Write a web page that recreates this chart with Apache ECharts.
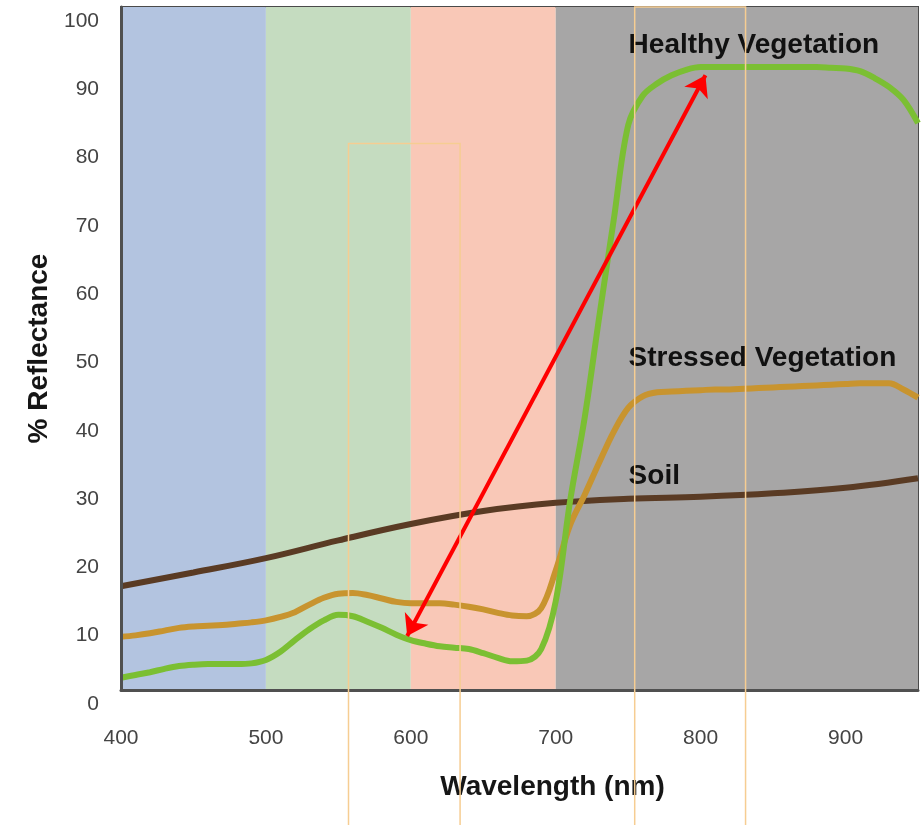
<!DOCTYPE html>
<html><head><meta charset="utf-8">
<script src="https://cdn.jsdelivr.net/npm/echarts@6/dist/echarts.min.js"></script>
<style>html,body{margin:0;padding:0;background:#fff}#c{width:924px;height:825px}</style>
</head><body><div id="c"></div>
<script>
// ---- data ----
const wavelengths = [400,410,420,430,440,450,460,470,480,490,500,510,520,530,540,550,560,570,580,590,600,610,620,630,640,650,660,670,680,690,700,710,720,730,740,750,760,770,780,790,800,810,820,830,840,850,860,870,880,890,900,910,920,930,940,950];
const healthyY = [1.8,2.2,2.6,3.1,3.5,3.7,3.8,3.8,3.8,3.9,4.4,5.6,7.3,8.9,10.2,11.0,10.8,10.0,9.1,8.1,7.3,6.8,6.4,6.2,6.0,5.4,4.7,4.2,4.3,6.0,13.0,27.8,39.9,54.6,68.8,82.7,87.0,88.8,90.0,90.8,91.2,91.2,91.2,91.2,91.2,91.2,91.2,91.2,91.2,91.1,91.0,90.6,89.6,88.3,86.4,83.0];
const stressedY = [7.8,8.0,8.3,8.7,9.1,9.3,9.4,9.5,9.7,9.9,10.2,10.7,11.4,12.5,13.5,14.1,14.2,13.9,13.4,12.9,12.7,12.7,12.7,12.5,12.2,11.8,11.3,10.9,10.8,12.0,17.5,24.2,28.6,33.3,37.8,41.3,43.0,43.6,43.7,43.8,43.9,44.0,44.0,44.1,44.2,44.3,44.4,44.5,44.6,44.7,44.8,44.9,44.9,44.9,44.0,42.8];
const soilX = [400,450,500,550,600,650,700,750,800,850,900,950];
const soilY = [15.2,17.2,19.3,21.9,24.3,26.2,27.4,28.0,28.3,28.8,29.6,31.0];
const bandStart = [400,500,600,700];
const bandEnd = [500,600,700,950];
const bandColor = ['#b3c4e0','#c5dcc0','#f9c8b7','#a7a6a6'];
const annText = ['Healthy Vegetation','Stressed Vegetation','Soil'];
const annX = [750.3,750.3,750.3];
const annY = [94.4,48.6,31.3];
const arrowFrom = [597.5,7.9];
const arrowTo = [803.3,90.0];
const rectLeft = [557,754.5];
const rectRight = [634,831];
const rectTop = [80,100];
const xTicks = [400,500,600,700,800,900];
const xTickLabels = ['400','500','600','700','800','900'];
const yTickLabels = ['0','10','20','30','40','50','60','70','80','90','100'];

const zip = (xs, ys) => xs.map((x, i) => [x, ys[i]]);
const FF = '"Liberation Sans", Arial, sans-serif';
const chart = echarts.init(document.getElementById('c'));
const option = {
  animation: false,
  backgroundColor: '#ffffff',
  grid: { left: 121, right: 6, top: 7, bottom: 135, show: true, borderColor: '#4a4a4a', borderWidth: 2, backgroundColor: 'transparent' },
  xAxis: {
    type: 'value', min: 400, max: 950, interval: 100, z: 5,
    name: 'Wavelength (nm)', nameLocation: 'middle', nameGap: 83,
    nameTextStyle: { fontFamily: FF, fontWeight: 'bold', fontSize: 28, color: '#161616', padding: [0,0,0,66] },
    axisLine: { show: true, lineStyle: { color: '#505050', width: 3 } },
    axisTick: { show: false }, splitLine: { show: false },
    axisLabel: { fontFamily: FF, fontSize: 21, color: '#444', margin: 38, showMaxLabel: false,
      formatter: v => { const i = xTicks.indexOf(v); return i >= 0 ? xTickLabels[i] : ''; } }
  },
  yAxis: {
    type: 'value', min: 0, max: 100, interval: 10, z: 5,
    name: '% Reflectance', nameLocation: 'middle', nameGap: 68,
    nameTextStyle: { fontFamily: FF, fontWeight: 'bold', fontSize: 28, color: '#161616' },
    axisLine: { show: true, lineStyle: { color: '#505050', width: 3 } },
    axisTick: { show: false }, splitLine: { show: false },
    axisLabel: { fontFamily: FF, fontSize: 21, color: '#444', margin: 22, verticalAlign: 'top', lineHeight: 28,
      formatter: v => yTickLabels[Math.round(v / 10)] }
  },
  series: [
    { name: 'Soil', type: 'line', data: zip(soilX, soilY), smooth: 0.4, showSymbol: false, symbol: 'none',
      lineStyle: { color: '#5a3b24', width: 6 },
      markArea: { silent: true, data: bandStart.map((s, i) => [{ xAxis: s, itemStyle: { color: bandColor[i] } }, { xAxis: bandEnd[i] }]) } },
    { name: 'Stressed Vegetation', type: 'line', data: zip(wavelengths, stressedY), smooth: 0.35, showSymbol: false, symbol: 'none',
      lineStyle: { color: '#c8942f', width: 6 } },
    { name: 'Healthy Vegetation', type: 'line', data: zip(wavelengths, healthyY), smooth: 0.35, showSymbol: false, symbol: 'none',
      lineStyle: { color: '#7bbf33', width: 6 } },
    { type: 'lines', coordinateSystem: 'cartesian2d', z: 10,
      symbol: ['arrow', 'arrow'], symbolSize: 20,
      lineStyle: { color: '#ff0000', width: 4, opacity: 1 },
      data: [{ coords: [arrowFrom, arrowTo] }] }
  ]
};
chart.setOption(option);
const px = (x, y) => chart.convertToPixel({ gridIndex: 0 }, [x, y]);
const graphics = [];
rectLeft.forEach((l, i) => {
  const a = px(l, rectTop[i]);
  const b = px(rectRight[i], 0);
  graphics.push({ type: 'rect', z: 100, silent: true,
    shape: { x: a[0], y: a[1], width: b[0] - a[0], height: 830 - a[1] },
    style: { fill: 'none', stroke: '#f6cd92', lineWidth: 1.5 } });
});
annText.forEach((t, i) => {
  const p = px(annX[i], annY[i]);
  graphics.push({ type: 'text', z: 50, silent: true, x: p[0], y: p[1],
    style: { text: t, font: 'bold 28px ' + FF, fill: '#111', align: 'left', verticalAlign: 'middle' } });
});
chart.setOption({ graphic: graphics });
</script>
</body></html>
